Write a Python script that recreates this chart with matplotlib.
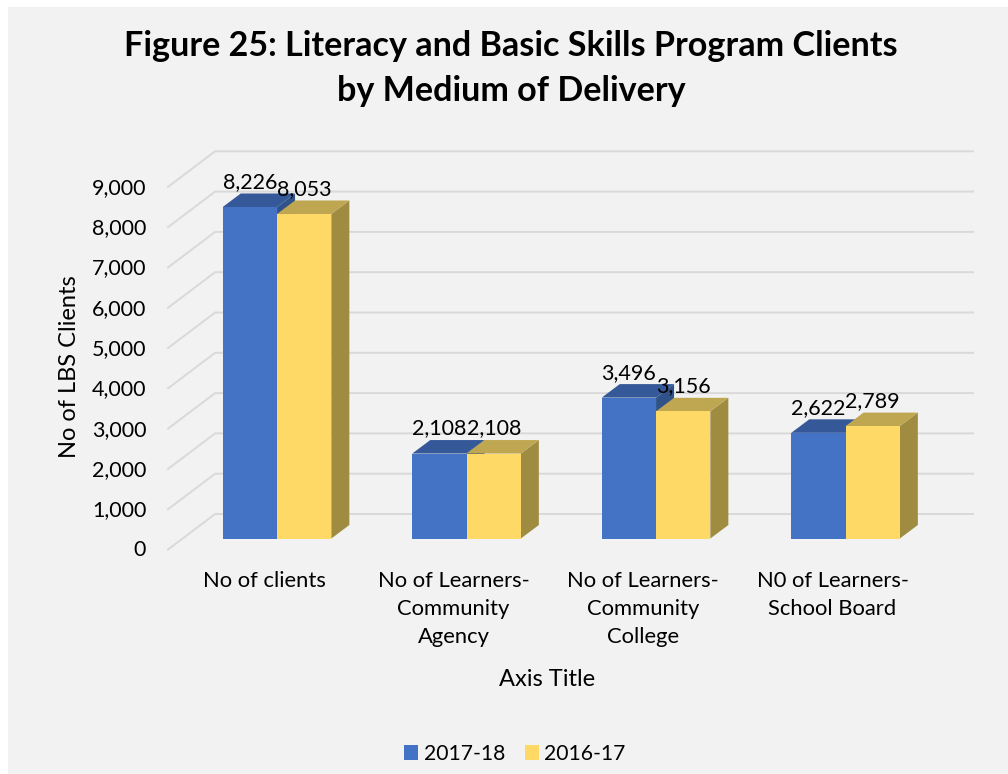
import matplotlib
matplotlib.use('Agg')
import matplotlib.pyplot as plt
from matplotlib.patches import Polygon, Rectangle
from matplotlib.transforms import Affine2D

categories = ['No of clients', 'No of Learners-\nCommunity\nAgency',
              'No of Learners-\nCommunity\nCollege', 'N0 of Learners-\nSchool Board']
values_2017 = [8226, 2108, 3496, 2622]
values_2016 = [8053, 2108, 3156, 2789]
y_ticks = [0, 1000, 2000, 3000, 4000, 5000, 6000, 7000, 8000, 9000]

W, H = 1008, 774
PX_X = 189.5        # pixels per category
PX_Y = 0.0403       # pixels per client
LEFT, BOTTOM = 182.3, 538.5

plt.rcParams['font.family'] = ['Lato', 'DejaVu Sans']

fig = plt.figure(figsize=(W / 100, H / 100), dpi=100, facecolor='white')
fig.add_artist(Rectangle((8 / W, 0), 1 - 8 / W, 1 - 7 / H, transform=fig.transFigure,
                         facecolor='#F2F2F2', edgecolor='none', zorder=-1))
ax = fig.add_axes([LEFT / W, (H - BOTTOM) / H, 4 * PX_X / W, 9000 * PX_Y / H])
ax.patch.set_visible(False)
ax.set_xlim(-0.5, 3.5)
ax.set_ylim(0, 9000)
for s in ax.spines.values():
    s.set_visible(False)


def dx(px):
    return px / PX_X


def dy(px):
    return px / PX_Y


# gridlines run from the front left corner to the back wall
for v in y_ticks:
    ax.plot([-0.5 + dx(-14.2), -0.5 + dx(32.8), 3.5 + dx(32.8)],
            [v + dy(-11), v + dy(24.5), v + dy(24.5)],
            color='#D9D9D9', lw=1.4, clip_on=False, zorder=1, solid_joinstyle='miter')


def bar3d(x0, x1, v, front, top, side):
    d_x, d_y = dx(18), dy(13.5)
    ax.add_patch(Polygon([(x1, 0), (x1, v), (x1 + d_x, v + d_y), (x1 + d_x, d_y)],
                         facecolor=side, edgecolor='none', zorder=2, clip_on=False))
    ax.add_patch(Polygon([(x0, v), (x1, v), (x1 + d_x, v + d_y), (x0 + d_x, v + d_y)],
                         facecolor=top, edgecolor='none', zorder=2, clip_on=False))
    ax.add_patch(Polygon([(x0, 0), (x1, 0), (x1, v), (x0, v)],
                         facecolor=front, edgecolor='none', zorder=2, clip_on=False))


BAR_W = 54.3 / PX_X
for i, (a, b) in enumerate(zip(values_2017, values_2016)):
    bar3d(i - BAR_W, i, a, '#4472C4', '#355899', '#2F5288')
    bar3d(i, i + BAR_W, b, '#FFD966', '#BFA650', '#A08C40')
    ax.annotate(f'{a:,}', (i - BAR_W / 2, a), xytext=(0, 25), textcoords='offset pixels',
                ha='center', va='center', fontsize=15.5, color='black', zorder=5)
    ax.annotate(f'{b:,}', (i + BAR_W / 2, b), xytext=(0, 25), textcoords='offset pixels',
                ha='center', va='center', fontsize=15.5, color='black', zorder=5)

ax.set_xticks(range(len(categories)))
ax.set_xticklabels(categories, fontsize=15.8, linespacing=1.5)
ax.set_yticks(y_ticks)
ax.set_yticklabels([f'{v:,}' for v in y_ticks], fontsize=15.5)
ax.tick_params(axis='x', length=0, pad=23.5)
ax.tick_params(axis='y', length=0, pad=26)
for lab in ax.get_xticklabels():
    lab.set_transform(lab.get_transform() + Affine2D().translate(-13, 0))
for lab in ax.get_yticklabels():
    lab.set_transform(lab.get_transform() + Affine2D().translate(0, -10))

fig.text(511 / W, 1 - 68.5 / H, 'Figure 25: Literacy and Basic Skills Program Clients\nby Medium of Delivery',
         ha='center', va='center', fontsize=24.6, fontweight='bold', linespacing=1.48, color='black')
fig.text(547 / W, 1 - 680 / H, 'Axis Title', ha='center', va='center', fontsize=17)
fig.text(69 / W, 1 - 367 / H, 'No of LBS Clients', ha='center', va='center', rotation=90, fontsize=17)

handles = [Rectangle((0, 0), 1, 1, facecolor='#4472C4'), Rectangle((0, 0), 1, 1, facecolor='#FFD966')]
fig.legend(handles, ['2017-18', '2016-17'], loc='center', bbox_to_anchor=(515 / W, 1 - 754 / H),
           ncol=2, frameon=False, fontsize=15.2, handlelength=0.66, handleheight=0.66,
           handletextpad=0.25, columnspacing=0.95)

fig.savefig('out.png', dpi=100, facecolor='white')
